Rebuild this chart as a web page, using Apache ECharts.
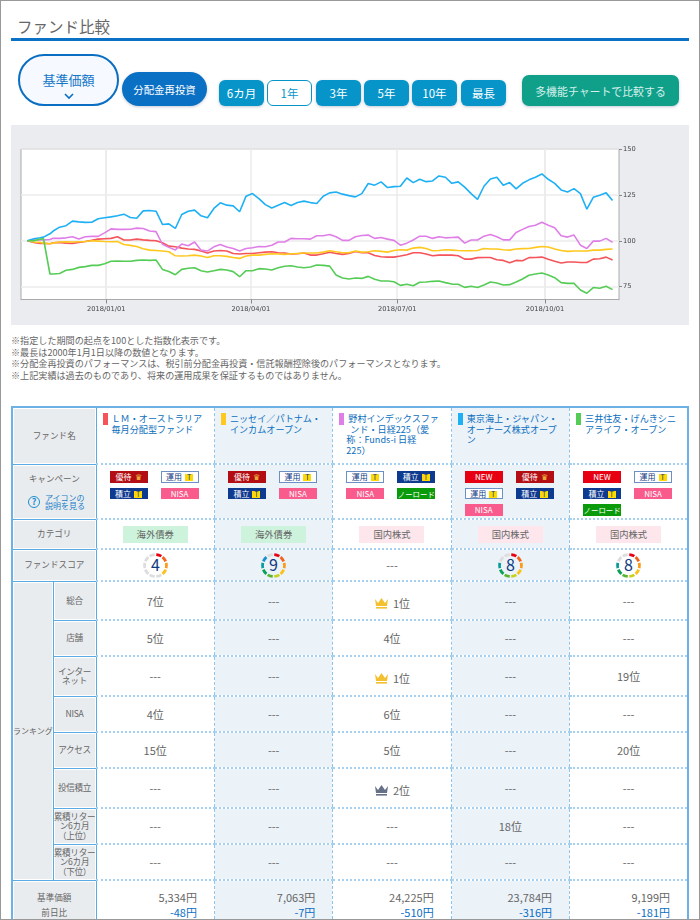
<!DOCTYPE html>
<html lang="ja">
<head>
<meta charset="utf-8">
<script src="https://cdn.jsdelivr.net/npm/echarts@6/dist/echarts.min.js"></script>
<style>
html, body { margin: 0; padding: 0; background: #fff; }
body { position: relative; width: 700px; height: 920px; overflow: hidden; font-family: "Noto Sans CJK JP", "Noto Sans", sans-serif; color: #666; }
.abs { position: absolute; box-sizing: border-box; }
.btn { display: flex; align-items: center; justify-content: center; box-shadow: 0 1px 3px rgba(60,80,120,.3); top: 80px; height: 26px; width: 45px; border-radius: 6px; background: #0795c9; color: #fff; font-size: 11.5px; }
.btn.on { background: #fff; border: 1px solid #0795c9; color: #0795c9; box-shadow: none; }
#notes { left: 11px; top: 335px; font-size: 9.1px; line-height: 11.6px; color: #666; white-space: nowrap; }
#tbl { left: 11px; top: 406px; width: 678px; border-collapse: collapse; table-layout: fixed; border: 2px solid #6cb2e6; }
#tbl th { background: #e9ecef; border: 1.5px solid #5aaae4; font-weight: normal; font-size: 8.6px; line-height: 9.2px; color: #666; padding: 0; box-shadow: inset 0 0 0 1px #fff; white-space: nowrap; overflow: hidden; }
#tbl td { border-left: 1px dashed #8fc4ec; border-right: 1px dashed #8fc4ec; border-top: 2px dotted #a5d0f0; border-bottom: 2px dotted #a5d0f0; padding: 0; text-align: center; font-size: 11px; color: #666; overflow: hidden; }
#tbl td.alt { background: #ebf2f8; }
.name { position: relative; text-align: left; color: #0a6ebd; font-size: 9.1px; line-height: 10.7px; height: 52px; }
.name i { position: absolute; left: 6px; top: 5px; width: 5px; height: 12px; }
.name span { position: absolute; white-space: nowrap; }
.badges { display: flex; flex-wrap: wrap; gap: 5px 13px; padding: 6px 0 0 13px; height: 46px; align-content: flex-start; }
.bd { box-sizing: border-box; width: 38px; height: 11.5px; font-size: 8px; line-height: 11px; color: #fff; text-align: center; white-space: nowrap; }
.bd b { font-weight: normal; display: inline-block; margin-left: 3px; }
.bd .t { width: 8px; height: 7px; line-height: 7px; font-size: 7px; background: #ffd800; color: #0e3a8f; }
.cat { display: inline-block; width: 65px; height: 17px; line-height: 17px; font-size: 9.3px; color: #666; }
.neg { color: #0a6ec5; }
.pr { text-align: right; padding-right: 17px; line-height: 15px; padding-top: 9px; }
</style>
</head>
<body>
<div class="abs" id="frame" style="left:0;top:0;width:700px;height:920px;border:1px solid #999;z-index:5;pointer-events:none"></div>

<div class="abs" style="left:17px;top:13px;font-size:15.5px;line-height:26px;color:#666">ファンド比較</div>
<div class="abs" style="left:11px;top:38px;width:678px;height:3px;background:#0a71c4"></div>

<div class="abs" style="left:18px;top:54px;width:101px;height:52px;border:2px solid #0a6fc2;border-radius:26px;background:#f6f9ff;color:#1477c9;font-size:13px;text-align:center;line-height:48px">基準価額
  <svg style="position:absolute;left:44px;top:37px" width="10" height="7"><path d="M1 1 L5 5 L9 1" fill="none" stroke="#0a6fc2" stroke-width="1.6"/></svg>
</div>
<div class="abs btn" style="left:122px;top:72px;width:85px;height:34px;border-radius:17px;background:#0a70c4;font-size:10.4px">分配金再投資</div>
<div class="abs btn" style="left:219px">6カ月</div>
<div class="abs btn on" style="left:267px">1年</div>
<div class="abs btn" style="left:316px">3年</div>
<div class="abs btn" style="left:364px">5年</div>
<div class="abs btn" style="left:412px">10年</div>
<div class="abs btn" style="left:461px">最長</div>
<div class="abs btn" style="left:522px;top:75px;width:157px;height:31px;border-radius:7px;background:#10a08a;color:#d5f0ea;font-size:10.9px">多機能チャートで比較する</div>

<div class="abs" id="chart" style="left:11px;top:125px;width:678px;height:200px"></div>

<div class="abs" id="notes">※指定した期間の起点を100とした指数化表示です。<br>※最長は2000年1月1日以降の数値となります。<br>※分配金再投資のパフォーマンスは、税引前分配金再投資・信託報酬控除後のパフォーマンスとなります。<br>※上記実績は過去のものであり、将来の運用成果を保証するものではありません。</div>

<table class="abs" id="tbl"></table>

<script type="text/javascript">
// 日付（全シリーズ共通）
var dates = ['2017-11-13','2017-11-17','2017-11-21','2017-11-23','2017-11-27','2017-11-29',
  '2017-12-03','2017-12-07','2017-12-11','2017-12-15','2017-12-19','2017-12-23','2017-12-27','2017-12-31',
  '2018-01-04','2018-01-08','2018-01-12','2018-01-16','2018-01-20','2018-01-24','2018-01-28',
  '2018-02-01','2018-02-05','2018-02-09','2018-02-13','2018-02-17','2018-02-21','2018-02-25',
  '2018-03-01','2018-03-05','2018-03-09','2018-03-13','2018-03-17','2018-03-21','2018-03-25','2018-03-29',
  '2018-04-02','2018-04-06','2018-04-10','2018-04-14','2018-04-18','2018-04-22','2018-04-26','2018-04-30',
  '2018-05-04','2018-05-08','2018-05-12','2018-05-16','2018-05-20','2018-05-24','2018-05-28',
  '2018-06-01','2018-06-05','2018-06-09','2018-06-13','2018-06-17','2018-06-21','2018-06-25','2018-06-29',
  '2018-07-03','2018-07-07','2018-07-11','2018-07-15','2018-07-19','2018-07-23','2018-07-27','2018-07-31',
  '2018-08-04','2018-08-08','2018-08-12','2018-08-16','2018-08-20','2018-08-24','2018-08-28',
  '2018-09-01','2018-09-05','2018-09-09','2018-09-13','2018-09-17','2018-09-21','2018-09-25','2018-09-29',
  '2018-10-03','2018-10-07','2018-10-11','2018-10-15','2018-10-19','2018-10-23','2018-10-27','2018-10-31',
  '2018-11-04','2018-11-08','2018-11-12'];

var redValues = [100,99.1,98.6,98.6,98.4,98.9,99.1,98.7,98.6,99.1,99.6,100.2,100.9,101.1,101.3,102.2,100.4,100.4,100.9,100.5,100.2,100,98.9,97.1,96.7,96,95.5,95.3,94.4,93.3,94.4,94.7,94.4,93.1,92.8,93.1,93.1,93.5,93.8,94,93.5,93.3,92.8,92.9,93.3,92.2,92.2,92.9,93.7,93.1,92.6,93.1,
  94.2,93.5,93.5,92,91.3,91.1,91.1,91.7,92.4,93.5,93.5,92.8,91.8,92.2,92.2,92.2,91.8,90,90,90.8,90.9,90.9,89.7,89.3,88,89.3,89.1,90.8,90.9,91.1,89.9,88.8,87.9,88.4,88.4,88.2,88.2,90,90.2,91.1,89.5];
var yellowValues = [100,99.3,99.1,98.7,98.4,98.7,99.3,99.5,99.3,99.5,99.6,100,99.8,99.6,99.5,99.6,98,97.5,96.9,95.7,94.9,94.7,94.4,94,91.8,91.7,91.8,92.2,91.7,90.9,91.8,91.8,91.5,90.9,90.4,91.7,92.2,92.2,92.6,92.9,92.8,92.6,92.9,93.1,93.3,93.3,93.3,93.8,94.6,94,93.5,93.5,
  94.4,93.8,94,94.6,94.2,93.8,94.7,95.1,94.9,96,96.4,95.8,94.6,94.7,95.1,94.9,94.7,94.6,94.6,94.7,95.8,95.5,95.5,95.1,94.9,95.5,95.7,95.8,96.4,96.9,96.6,95.5,94.7,94.2,94.4,94.4,94.4,94.9,94.9,95.3,95.5];
var pinkValues = [100,100.4,100.4,100.4,100.7,101.4,101.3,101.6,102.2,100.9,102.2,102.4,102.4,104.3,106.5,106.2,106.2,106.3,106.9,106.7,105.3,105,98.1,96.4,95,98.2,97.3,99.3,94.9,94.4,96.7,98,96.6,95.8,94.4,95.8,96.2,96.9,96.7,97.6,99.3,99.3,101.3,101.1,101.1,100.9,102.7,102.7,103.4,102.2,100.2,100.2,
  102.2,102.9,103.1,101.3,101.8,100.9,100.2,97.6,98.7,100.4,102.5,102.5,101.3,102.2,101.6,101.8,102,98.7,100.4,100.4,102.5,103.4,102.2,100.5,100.5,104.5,106.2,107.8,108.5,110.1,108.5,107.1,102.7,102,103.1,97.6,95.8,99.8,99.8,101.3,99.1];
var blueValues = [100,101.1,101.6,102,103.8,105.3,107.4,108.2,110.7,110.3,110,110.1,112,112.5,113,113.6,114.5,112.7,112.3,116.3,116.5,116.1,108.9,109.2,106.7,114.3,116.1,116.7,113.6,112.5,117.6,120.7,119.4,119,115.8,124.3,125.7,123,119.7,117.9,119.4,120.8,119.2,120.8,121.6,120.8,120.3,124.3,126.1,126.6,125.4,124.6,
  123.9,125.7,131.2,130.3,132.1,129,129.5,129.7,134.2,131.7,133.5,132.2,132.6,135.3,134.6,131.3,132.1,129.2,125.7,122.6,129.7,133.7,134.6,130.3,131.7,128.3,131.3,133.2,134.6,136.4,133.5,131.3,127.7,126.6,128.4,125.7,117.2,123.7,124.8,126.1,121.9];
var greenValues = [100,100,100.9,101.1,81.9,81.9,82.2,83.9,84.4,85.5,85.9,86.6,86.6,87.5,88.8,89,88.8,88.8,89.3,89.5,89.3,89.5,84.4,83.3,81.5,84.4,85,85.3,83.7,83,83.7,84.4,84.1,83.2,80.4,83.7,83.7,84.8,84.6,84.1,85.3,86.1,86.4,85.7,85.3,85.7,86.8,86.6,86.2,81.3,79.7,79.2,
  79.7,79.5,80.6,79,78.1,78.1,77.7,75.7,76.3,75.5,77.4,77.5,77.9,78.1,77.2,76.4,76.3,74.6,75.2,74.5,75.9,77.5,77,75.9,76.1,77.5,79.2,81.2,81.9,82.4,81.3,79.9,77.2,76.8,76.8,73.2,71.4,74.5,74.1,75.2,73.4];

var yTicks = [75, 100, 125, 150];
var xTicks = ['2018-01-01', '2018-04-01', '2018-07-01', '2018-10-01'];

// 表のデータ
var fundColors = ['#f4545a', '#ffc81e', '#e07ee8', '#1eb0f5', '#55cc55'];
var fundNames = [
  ['ＬＭ・オーストラリア', '毎月分配型ファンド'],
  ['ニッセイ／パトナム・', 'インカムオープン'],
  ['野村インデックスファ', 'ンド・日経225（愛', '称：Funds-i 日経', '225）'],
  ['東京海上・ジャパン・', 'オーナーズ株式オープ', 'ン'],
  ['三井住友・げんきシニ', 'アライフ・オープン']
];
var campaigns = [
  ['yu', 'un', 'tu', 'ni'],
  ['yu', 'un', 'tu', 'ni'],
  ['un', 'tu', 'ni', 'no'],
  ['nw', 'yu', 'un', 'tu', 'ni'],
  ['nw', 'un', 'tu', 'ni', 'no']
];
var categories = ['海外債券', '海外債券', '国内株式', '国内株式', '国内株式'];
var scores = [4, 9, 0, 8, 8];
var rankLabels = ['総合', '店舗', 'インター<br>ネット', 'NISA', 'アクセス', '投信積立', '<span class="ls">累積リター<br>ン6カ月<br>（上位）</span>', '<span class="ls">累積リター<br>ン6カ月<br>（下位）</span>'];
var rankHeights = [39, 36, 40, 36, 36, 40, 36, 36];
var rankRows = [
  ['7位', '---', 'g1位', '---', '---'],
  ['5位', '---', '4位', '---', '---'],
  ['---', '---', 'g1位', '---', '19位'],
  ['4位', '---', '6位', '---', '---'],
  ['15位', '---', '5位', '---', '20位'],
  ['---', '---', 's2位', '---', '---'],
  ['---', '---', '---', '18位', '---'],
  ['---', '---', '---', '---', '---']
];
var prices = ['5,334円', '7,063円', '24,225円', '23,784円', '9,199円'];
var changes = ['-48円', '-7円', '-510円', '-316円', '-181円'];

var badgeHtml = {
  yu: '<div class="bd" style="background:#b30e14">優待<b style="color:#f5c542">♛</b></div>',
  un: '<div class="bd" style="background:#fff;border:1px solid #6c8fc4;color:#123a84;line-height:9.5px">運用<b class="t">T</b></div>',
  tu: '<div class="bd" style="background:#0e3a8f">積立<b class="t">T</b></div>',
  ni: '<div class="bd" style="background:#f95b8c">NISA</div>',
  no: '<div class="bd" style="background:#0a9a0a;font-size:7.4px">ノーロード</div>',
  nw: '<div class="bd" style="background:#e60012">NEW</div>'
};
var ringColors = ['#e60012', '#f0641e', '#f99a1c', '#fbc21c', '#c8d21e', '#58b42c', '#0aa05a', '#0a9a9a', '#1a8fd0', '#1a5ac0'];

function crown(color) {
  return '<svg width="15" height="13" style="vertical-align:-1px;margin-right:4px"><path d="M1 3 L4 7 L7.5 2 L11 7 L14 3 L13 10 L2 10 Z" fill="' + color + '"/><rect x="2" y="11" width="11" height="1.6" fill="' + color + '"/></svg>';
}
function ring(score) {
  var s = '<svg width="27" height="27" style="display:block;margin:auto">';
  for (var k = 0; k < 10; k++) {
    var a0 = (k * 36 + 4 - 90) * Math.PI / 180, a1 = (k * 36 + 32 - 90) * Math.PI / 180;
    s += '<path d="M' + (13.5 + 11 * Math.cos(a0)) + ' ' + (13.5 + 11 * Math.sin(a0)) + ' A11 11 0 0 1 ' + (13.5 + 11 * Math.cos(a1)) + ' ' + (13.5 + 11 * Math.sin(a1)) + '" fill="none" stroke-width="2.8" stroke="' + (k < score ? ringColors[k] : '#ddd') + '"/>';
  }
  return s + '<text x="13.5" y="19" text-anchor="middle" font-size="16" fill="#0e3a7f">' + score + '</text></svg>';
}
function rankCell(v) {
  if (v.charAt(0) == 'g') return '<span style="position:relative;top:2px">' + crown('#f3c130') + v.slice(1) + '</span>';
  if (v.charAt(0) == 's') return '<span style="position:relative;top:2px">' + crown('#667087') + v.slice(1) + '</span>';
  return v;
}
function row(height, head, cellFn) {
  var h = '<tr style="height:' + height + 'px">' + head;
  for (var i = 0; i < 5; i++) h += '<td class="' + (i % 2 ? 'alt' : '') + '" style="' + (cellFn.style || '') + '">' + cellFn(i) + '</td>';
  return h + '</tr>';
}

var html = '<colgroup><col style="width:41px"><col style="width:43px"><col><col><col><col><col></colgroup>';
var nameFn = function (i) {
  var s = '<div class="name"><i style="background:' + fundColors[i] + '"></i>';
  fundNames[i].forEach(function (line, n) {
    var left = 15;
    if (i == 2 && n == 1) left = 17;
    if (i == 2 && n > 1) left = 13;
    s += '<span style="left:' + left + 'px;top:' + (n * 10.7 + 5) + 'px">' + line + '</span>';
  });
  return s + '</div>';
};
nameFn.style = 'vertical-align:top';
html += row(57, '<th colspan="2">ファンド名</th>', nameFn);

var campFn = function (i) {
  return '<div class="badges">' + campaigns[i].map(function (c) { return badgeHtml[c]; }).join('') + '</div>';
};
campFn.style = 'vertical-align:top';
html += row(55, '<th colspan="2" style="vertical-align:top;position:relative"><div style="margin-top:9px">キャンペーン</div>' +
  '<div style="position:absolute;left:15px;top:31px;width:12px;height:12px;border:1.2px solid #1a8fd0;border-radius:50%;box-sizing:border-box;color:#1a8fd0;font-size:9px;line-height:10px;font-weight:bold">?</div>' +
  '<div style="position:absolute;left:32px;top:29px;color:#1a7ec8;font-size:8px;line-height:8.6px;text-align:left">アイコンの<br>説明を見る</div></th>', campFn);

html += row(30, '<th colspan="2">カテゴリ</th>', function (i) {
  return '<span class="cat" style="background:' + (categories[i] == '海外債券' ? '#cdf3dc' : '#fde6ec') + '">' + categories[i] + '</span>';
});
html += row(32, '<th colspan="2">ファンドスコア</th>', function (i) {
  return scores[i] ? ring(scores[i]) : '---';
});
rankRows.forEach(function (vals, r) {
  var head = (r == 0 ? '<th rowspan="8" style="font-size:8px">ランキング</th>' : '') + '<th style="letter-spacing:-.3px">' + rankLabels[r] + '</th>';
  html += row(rankHeights[r], head, function (i) { return rankCell(vals[i]); });
});
var priceFn = function (i) {
  return '<div class="pr">' + prices[i] + '<br><span class="neg">' + changes[i] + '</span></div>';
};
priceFn.style = 'vertical-align:top';
html += row(60, '<th colspan="2" style="vertical-align:top;line-height:15px;padding-top:9px">基準価額<br>前日比</th>', priceFn);
document.getElementById('tbl').innerHTML = html;

// 折れ線チャート
var myChart = echarts.init(document.getElementById('chart'));
function makeSeries(name, values, color) {
  return {
    name: name,
    type: 'line',
    showSymbol: false,
    animation: false,
    lineStyle: { color: color, width: 1.6 },
    data: values.map(function (v, i) { return [dates[i], v]; })
  };
}
var option = {
  backgroundColor: '#eaecf0',
  grid: { left: 10, top: 24, right: 70, bottom: 25.5, show: true, backgroundColor: '#fff', borderColor: '#aaa', borderWidth: 1 },
  xAxis: {
    type: 'time',
    min: '2017-11-09',
    max: '2018-11-16',
    axisLine: { lineStyle: { color: '#aaa' } },
    axisTick: { customValues: xTicks.map(function (d) { return +new Date(d + 'T00:00'); }), length: 4, lineStyle: { color: '#888' } },
    axisLabel: {
      customValues: xTicks.map(function (d) { return +new Date(d + 'T00:00'); }),
      formatter: '{yyyy}/{MM}/{dd}',
      fontSize: 6.7, color: '#444', margin: 6, fontFamily: 'DejaVu Sans'
    },
    splitLine: { show: true, lineStyle: { color: '#ebebeb', width: 1.5 } }
  },
  yAxis: {
    type: 'value',
    position: 'right',
    min: 68,
    max: 150,
    axisLine: { show: false },
    axisTick: { show: true, customValues: yTicks, length: 3, lineStyle: { color: '#888' } },
    axisLabel: { customValues: yTicks, fontSize: 6.7, color: '#444', margin: 4, fontFamily: 'DejaVu Sans' },
    splitLine: { show: true, lineStyle: { color: '#ebebeb', width: 1.5 } }
  },
  series: [
    makeSeries('LM', redValues, fundColors[0]),
    makeSeries('ニッセイ', yellowValues, fundColors[1]),
    makeSeries('野村', pinkValues, fundColors[2]),
    makeSeries('東京海上', blueValues, fundColors[3]),
    makeSeries('三井住友', greenValues, fundColors[4])
  ]
};
myChart.setOption(option);
</script>
</body>
</html>
